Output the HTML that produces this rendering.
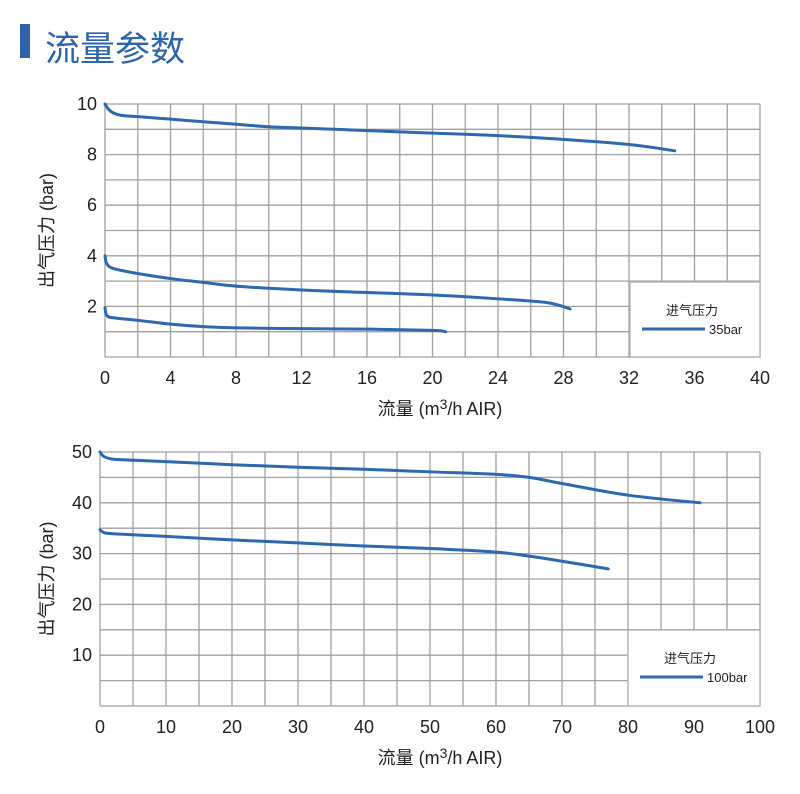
<!DOCTYPE html>
<html><head><meta charset="utf-8"><style>
body{margin:0;background:#fff;width:800px;height:789px;overflow:hidden}
text{font-family:"Liberation Sans","Noto Sans CJK SC",sans-serif}
</style></head><body>
<svg width="800" height="789" id="svg">
<rect x="20" y="24" width="10" height="34" fill="#2e64a8"/>
<text x="45" y="61" font-size="35" fill="#2e64a8">流量参数</text>
</svg>
<script>
const c1Xticks=[0,4,8,12,16,20,24,28,32,36,40];
const c1Yticks=[2,4,6,8,10];
const c1S1x=[0,0.2,0.5,1,2,4,6,8,10,12,16,20,24,28,32,34.8];
const c1S1y=[10,9.8,9.65,9.55,9.5,9.4,9.3,9.2,9.1,9.05,8.95,8.85,8.75,8.6,8.4,8.15];
const c1S2x=[0,0.1,0.5,2,4,6,8,12,16,20,24,27,28.4];
const c1S2y=[4.0,3.7,3.5,3.3,3.1,2.95,2.8,2.65,2.55,2.45,2.3,2.15,1.9];
const c1S3x=[0,0.1,0.5,2,4,6,8,12,16,20,20.8];
const c1S3y=[1.95,1.65,1.55,1.45,1.3,1.2,1.15,1.12,1.1,1.05,1.0];
const c2Xticks=[0,10,20,30,40,50,60,70,80,90,100];
const c2Yticks=[10,20,30,40,50];
const c2S1x=[0,0.5,1.5,3,10,20,30,40,50,60,65,70,80,90.9];
const c2S1y=[50,49.2,48.7,48.5,48.1,47.5,47,46.6,46.1,45.6,45.0,43.8,41.5,40.0];
const c2S2x=[0,0.5,2,10,20,30,40,50,60,65,70,77];
const c2S2y=[34.7,34.2,33.9,33.4,32.7,32.1,31.5,31,30.3,29.5,28.5,27];
const NS="http://www.w3.org/2000/svg";
const svg=document.getElementById('svg');
function mk(t,a,p){const e=document.createElementNS(NS,t);for(const k in a)e.setAttribute(k,a[k]);(p||svg).appendChild(e);return e;}
function path(pts){let d="M"+pts[0][0]+","+pts[0][1];for(let i=0;i<pts.length-1;i++){const p0=pts[i-1]||pts[i],p1=pts[i],p2=pts[i+1],p3=pts[i+2]||p2;
d+=" C"+(p1[0]+(p2[0]-p0[0])/6)+","+(p1[1]+(p2[1]-p0[1])/6)+" "+(p2[0]-(p3[0]-p1[0])/6)+","+(p2[1]-(p3[1]-p1[1])/6)+" "+p2[0]+","+p2[1];}return d;}
function chart(o){
 const X=v=>o.x0+(v-0)/o.xmax*(o.x1-o.x0), Y=v=>o.y0-(v/o.ymax)*(o.y0-o.y1);
 const g=mk('g',{});
 for(let v=0;v<=o.ymax+1e-9;v+=o.ystep){const l=mk('line',{x1:o.x0,x2:o.x1,y1:Y(v),y2:Y(v),stroke:'#a0a0a0','stroke-width':1.3},g);}
 for(let v=0;v<=o.xmax+1e-9;v+=o.xstep){const l=mk('line',{x1:X(v),x2:X(v),y1:o.y0,y2:o.y1,stroke:'#a0a0a0','stroke-width':1.3},g);}
 const lb=mk('rect',{x:o.lg[0],y:o.lg[1],width:o.x1-o.lg[0],height:o.y0-o.lg[1],fill:'#fff',stroke:'#b0b0b0','stroke-width':1.3},g);
 
 let t=mk('text',{x:o.lg[0]+62,y:o.lg[1]+33,'font-size':13,'text-anchor':'middle',fill:'#222'},g);t.textContent='进气压力';
 const ll=mk('line',{x1:o.lg[0]+12,x2:o.lg[0]+75,y1:o.lg[1]+47,y2:o.lg[1]+47,stroke:'#2e68ad','stroke-width':3},g);
 t=mk('text',{x:o.lg[0]+79,y:o.lg[1]+52,'font-size':13,fill:'#222'},g);t.textContent=o.lgText;
 o.xt.forEach(v=>{const e=mk('text',{x:X(v),y:o.y0+27,'font-size':18,'text-anchor':'middle',fill:'#222'},g);e.textContent=v;});
 o.yt.forEach(v=>{const e=mk('text',{x:o.x0-8,y:Y(v)+6,'font-size':18,'text-anchor':'end',fill:'#222'},g);e.textContent=v;});
 o.series.forEach((s,i)=>{const p=mk('path',{d:path(s[0].map((x,j)=>[X(x),Y(s[1][j])])),fill:'none',stroke:'#2e68ad','stroke-width':3,'stroke-linecap':'round'},g);});
 const yt=mk('text',{x:0,y:0,'font-size':18,'text-anchor':'middle',fill:'#222',transform:`translate(${o.yTitleX},${(o.y0+o.y1)/2}) rotate(-90)`},g);yt.textContent='出气压力 (bar)';
 const xt=mk('text',{x:440,y:o.y0+58,'font-size':18,'text-anchor':'middle',fill:'#222'},g);xt.innerHTML='流量 (m<tspan dy="-6" font-size="14">3</tspan><tspan dy="6">/h AIR)</tspan>';
}
chart({name:'chart-35bar',x0:105,x1:760,y0:357,y1:104,xmax:40,ymax:10,xstep:2,ystep:1,xt:c1Xticks,yt:c1Yticks,lg:[630,282],lgText:'35bar',yTitleX:53,
 series:[[c1S1x,c1S1y],[c1S2x,c1S2y],[c1S3x,c1S3y]]});
chart({name:'chart-100bar',x0:100,x1:760,y0:706,y1:452,xmax:100,ymax:50,xstep:5,ystep:5,xt:c2Xticks,yt:c2Yticks,lg:[628,630],lgText:'100bar',yTitleX:53,
 series:[[c2S1x,c2S1y],[c2S2x,c2S2y]]});
</script>
</body></html>
